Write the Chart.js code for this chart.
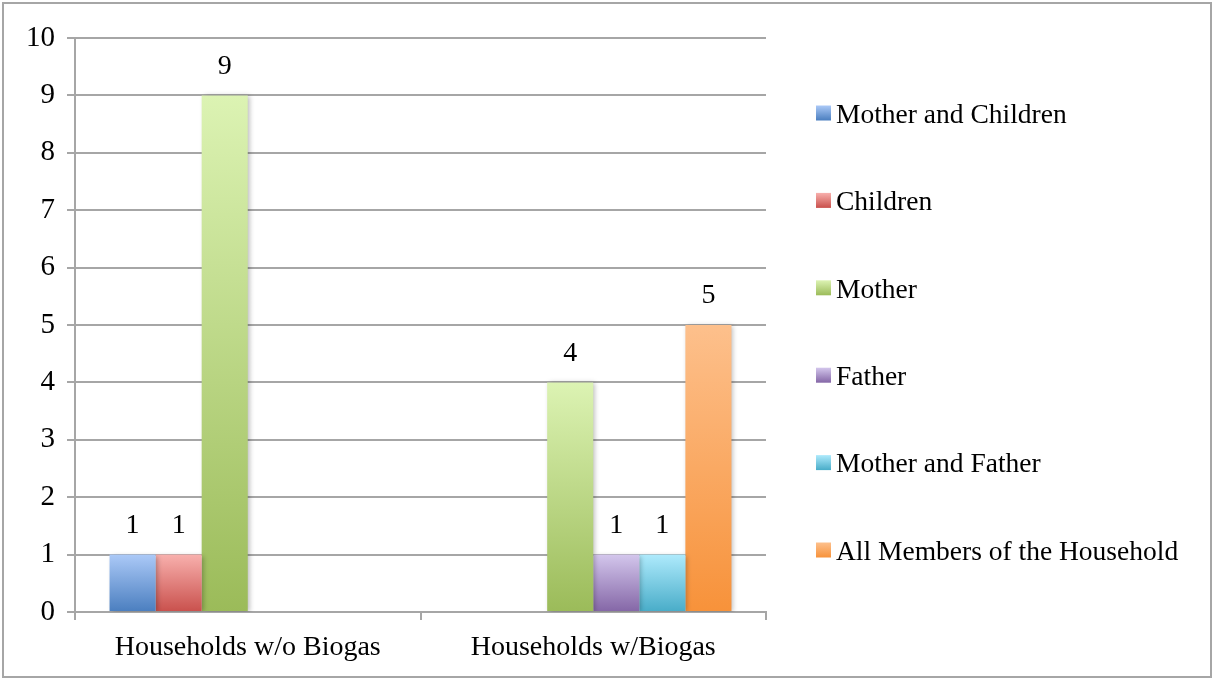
<!DOCTYPE html>
<html>
<head>
<meta charset="utf-8">
<script src="https://cdn.jsdelivr.net/npm/chart.js@4.4.1/dist/chart.umd.min.js"></script>
<style>
  html, body { margin: 0; padding: 0; background: #ffffff; }
  #wrap { width: 1214px; height: 680px; position: relative; }
</style>
</head>
<body>
<div id="wrap"><canvas id="c" width="1214" height="680"></canvas></div>
<script>
// ---- data ----
const categories = ['Households w/o Biogas', 'Households w/Biogas'];
const seriesNames = ['Mother and Children', 'Children', 'Mother', 'Father', 'Mother and Father', 'All Members of the Household'];
const motherAndChildren = [1, null];
const children = [1, null];
const mother = [9, 4];
const father = [null, 1];
const motherAndFather = [null, 1];
const allMembers = [null, 5];
const yTicks = [0, 1, 2, 3, 4, 5, 6, 7, 8, 9, 10];

// ---- styles ----
const topColors = ['#abc9f7', '#f8b0ad', '#dcf3b3', '#d3c6ec', '#aeeafc', '#fdc08c'];
const bottomColors = ['#4a7ebf', '#c9504c', '#9bbb59', '#8466a6', '#48acc8', '#f7923a'];
const FONT = '"Liberation Serif", "Times New Roman", serif';
const GRID = '#a6a6a6';

const seriesValues = [motherAndChildren, children, mother, father, motherAndFather, allMembers];

function gradFill(i) {
  return function (ctx) {
    const chart = ctx.chart;
    const y = chart.scales && chart.scales.y;
    if (!y || ctx.type !== 'data' || ctx.parsed == null || ctx.parsed.y == null) return bottomColors[i];
    const top = y.getPixelForValue(ctx.parsed.y);
    const bot = y.getPixelForValue(0);
    if (!isFinite(top) || !isFinite(bot) || top === bot) return bottomColors[i];
    const g = chart.ctx.createLinearGradient(0, top, 0, bot);
    g.addColorStop(0, topColors[i]);
    g.addColorStop(1, bottomColors[i]);
    return g;
  };
}

const datasets = seriesNames.map((name, i) => ({
  label: name,
  data: seriesValues[i],
  backgroundColor: gradFill(i),
  borderWidth: 0,
  categoryPercentage: 0.8,
  barPercentage: 1.0
}));

const frame = {
  id: 'frame',
  beforeDraw(chart) {
    const c = chart.ctx;
    c.save();
    c.fillStyle = '#ffffff';
    c.fillRect(0, 0, chart.width, chart.height);
    c.strokeStyle = GRID;
    c.lineWidth = 2;
    c.strokeRect(3, 3, chart.width - 6, chart.height - 6);
    c.restore();
  }
};

const shadow = {
  id: 'shadow',
  beforeDatasetsDraw(chart) {
    const c = chart.ctx;
    c.save();
    c.shadowColor = 'rgba(0,0,0,0.28)';
    c.shadowBlur = 5;
    c.shadowOffsetX = 2;
    c.shadowOffsetY = 1;
  },
  afterDatasetsDraw(chart) {
    chart.ctx.restore();
  }
};

const valueLabels = {
  id: 'valueLabels',
  afterDatasetsDraw(chart) {
    const c = chart.ctx;
    c.save();
    c.font = '28px ' + FONT;
    c.fillStyle = '#000000';
    c.textAlign = 'center';
    c.textBaseline = 'middle';
    chart.data.datasets.forEach((ds, di) => {
      const meta = chart.getDatasetMeta(di);
      meta.data.forEach((bar, j) => {
        const v = ds.data[j];
        if (v == null) return;
        c.fillText(String(v), bar.x, bar.y - 29);
      });
    });
    c.restore();
  }
};

const sideLegend = {
  id: 'sideLegend',
  afterDraw(chart) {
    const c = chart.ctx;
    c.save();
    c.font = '27.5px ' + FONT;
    c.fillStyle = '#000000';
    c.textAlign = 'left';
    c.textBaseline = 'middle';
    const x0 = 816, y0 = 113, step = 87.4, box = 15;
    chart.data.datasets.forEach((ds, i) => {
      const cy = y0 + i * step;
      const g = c.createLinearGradient(0, cy - box / 2, 0, cy + box / 2);
      g.addColorStop(0, topColors[i]);
      g.addColorStop(1, bottomColors[i]);
      c.fillStyle = g;
      c.fillRect(x0, cy - box / 2, box, box);
      c.fillStyle = '#000000';
      c.fillText(ds.label, x0 + 20, cy + 2.5);
    });
    c.restore();
  }
};

new Chart(document.getElementById('c'), {
  type: 'bar',
  data: { labels: categories, datasets },
  options: {
    responsive: false,
    animation: false,
    devicePixelRatio: 1,
    layout: { padding: { left: 0, top: 38, right: 448, bottom: 0 } },
    plugins: {
      legend: { display: false },
      tooltip: { enabled: false },
      title: { display: false }
    },
    scales: {
      x: {
        offset: true,
        grid: {
          display: true,
          offset: true,
          drawOnChartArea: false,
          drawTicks: true,
          tickLength: 8,
          color: GRID,
          lineWidth: 2
        },
        border: { display: true, color: GRID, width: 2 },
        ticks: { color: '#000000', font: { family: FONT, size: 28 }, padding: 11, maxRotation: 0 },
        afterFit(scale) { scale.height = 68; }
      },
      y: {
        min: 0,
        max: 10,
        afterBuildTicks(scale) { scale.ticks = yTicks.map(v => ({ value: v })); },
        grid: { color: GRID, lineWidth: 2, tickLength: 8, drawTicks: true },
        border: { display: true, color: GRID, width: 2 },
        ticks: { color: '#000000', font: { family: FONT, size: 29 }, padding: 12 },
        afterFit(scale) { scale.width = 75; }
      }
    }
  },
  plugins: [frame, shadow, valueLabels, sideLegend]
});
</script>
</body>
</html>
